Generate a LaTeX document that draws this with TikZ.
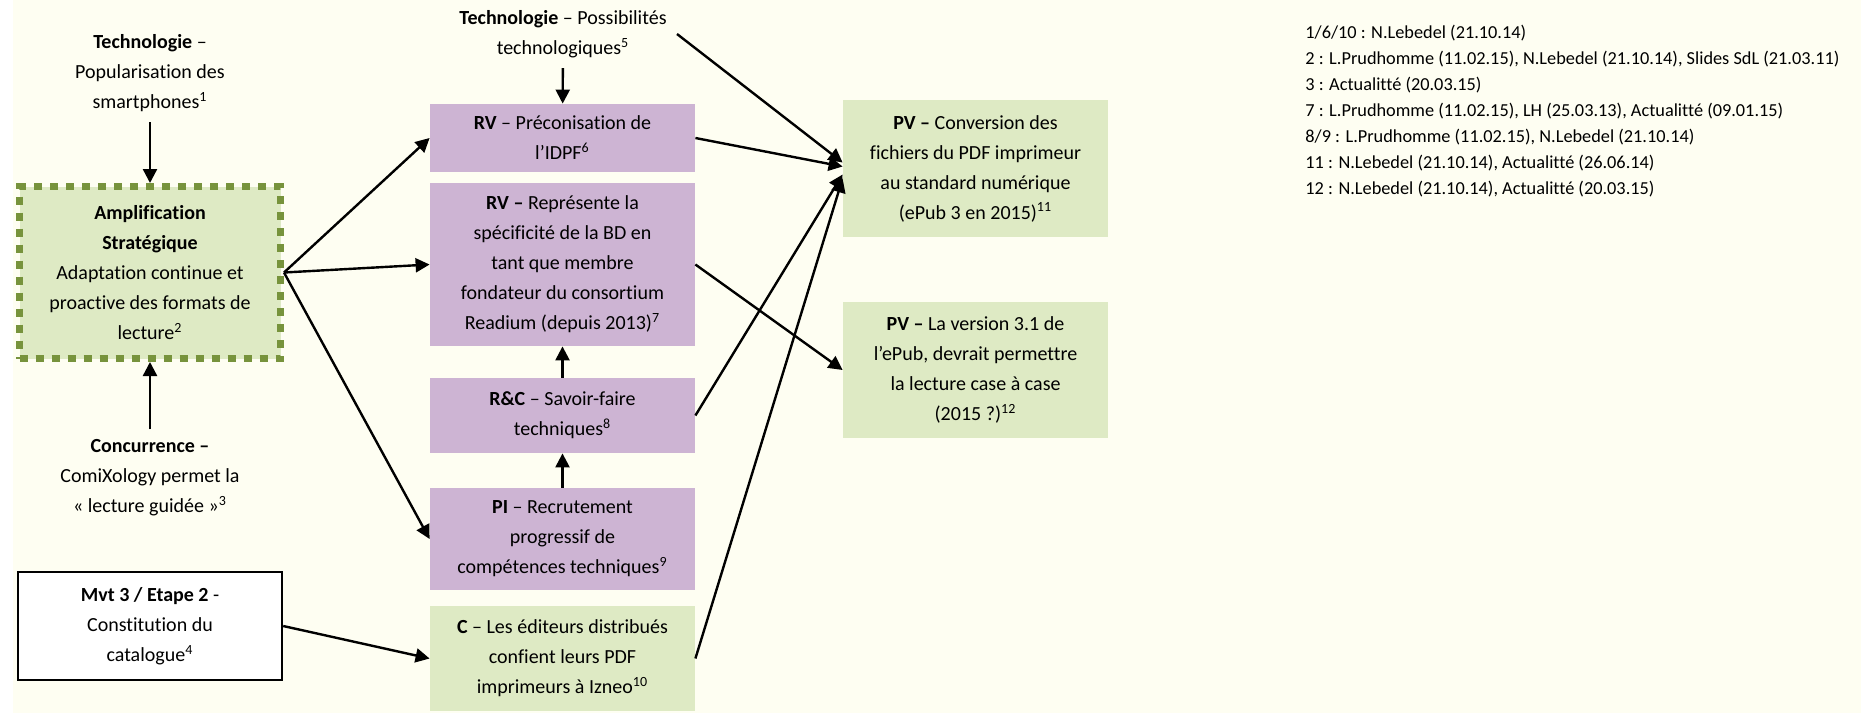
\documentclass[tikz,border=0pt]{standalone}
\usepackage{fontspec}
\setmainfont{Carlito}[Ligatures=NoCommon]
\usepackage{tikz}
\usetikzlibrary{arrows.meta, positioning}
\definecolor{bgcream}{RGB}{254,254,242}
\definecolor{boxgreen}{RGB}{222,234,196}
\definecolor{boxpurple}{RGB}{205,180,211}
\definecolor{olivedash}{RGB}{119,147,60}
\tikzset{
  basebox/.style={
    rectangle, inner sep=0pt, minimum width=132.5pt,
    align=center, font=\fontsize{10}{15}\selectfont
  },
  rvbox/.style={basebox, fill=boxpurple},
  greenbox/.style={basebox, fill=boxgreen},
  ampbox/.style={basebox, fill=boxgreen, draw=olivedash, line width=3.5pt,
    dash pattern=on 4pt off 4pt, minimum width=130.5pt},
  plainbox/.style={basebox, fill=white, draw=black, line width=1.2pt, minimum width=132pt},
  factor/.style={align=center, inner sep=5pt, font=\fontsize{10}{15}\selectfont},
  notes/.style={align=left, inner sep=0pt, font=\fontsize{9.15}{13}\selectfont},
  every edge/.style={draw, -{Triangle[length=7pt, width=7pt]}, line width=1.2pt},
}

\begin{document}
\begin{tikzpicture}[x=0.5pt, y=-0.5pt]
  \useasboundingbox (0,0) rectangle (1861,713);
  \fill[bgcream] (13,0) rectangle (1861,713);

  % left column
  \node[factor] (tech1) at (150,73) {\textbf{Technologie} –\\Popularisation des\\smartphones\textsuperscript{1}};
  \node[ampbox, minimum height=86pt] (amp) at (150,272.5) {\textbf{Amplification}\\\textbf{Stratégique}\\Adaptation continue et\\proactive des formats de\\lecture\textsuperscript{2}};
  \node[factor] (conc) at (150,478) {\textbf{Concurrence –}\\ComiXology permet la\\« lecture guidée »\textsuperscript{3}};
  \node[plainbox, minimum height=54pt] (mvt) at (150,626) {\textbf{Mvt 3 / Etape 2} -\\Constitution du\\catalogue\textsuperscript{4}};

  % middle column
  \node[factor] (tech2) at (563,34) {\textbf{Technologie} – Possibilités\\technologiques\textsuperscript{5}};
  \node[rvbox, minimum height=34pt] (rv1) at (562.5,138) {\textbf{RV} – Préconisation de\\l’IDPF\textsuperscript{6}};
  \node[rvbox, minimum height=81.5pt] (rv2) at (562.5,264.5) {\textbf{RV –} Représente la\\spécificité de la BD en\\tant que membre\\fondateur du consortium\\Readium (depuis 2013)\textsuperscript{7}};
  \node[rvbox, minimum height=37.5pt] (rc) at (562.5,415.5) {\textbf{R\&C} – Savoir-faire\\techniques\textsuperscript{8}};
  \node[rvbox, minimum height=51pt] (pi) at (562.5,539) {\textbf{PI} – Recrutement\\progressif de\\compétences techniques\textsuperscript{9}};
  \node[greenbox, minimum height=52.5pt] (cdist) at (562.5,658.5) {\textbf{C} – Les éditeurs distribués\\confient leurs PDF\\imprimeurs à Izneo\textsuperscript{10}};

  % right column
  \node[greenbox, minimum height=68.5pt] (pv1) at (975.5,168.5) {\textbf{PV –} Conversion des\\fichiers du PDF imprimeur\\au standard numérique\\(ePub 3 en 2015)\textsuperscript{11}};
  \node[greenbox, minimum height=68pt] (pv2) at (975.5,370) {\textbf{PV –} La version 3.1 de\\l’ePub, devrait permettre\\la lecture case à case\\(2015 ?)\textsuperscript{12}};

  \node[notes, anchor=north west] (notes) at (1305,25) {1/6/10 : N.Lebedel (21.10.14)\\
    2 : L.Prudhomme (11.02.15), N.Lebedel (21.10.14), Slides SdL (21.03.11)\\
    3 : Actualitté (20.03.15)\\
    7 : L.Prudhomme (11.02.15), LH (25.03.13), Actualitté (09.01.15)\\
    8/9 : L.Prudhomme (11.02.15), N.Lebedel (21.10.14)\\
    11 : N.Lebedel (21.10.14), Actualitté (26.06.14)\\
    12 : N.Lebedel (21.10.14), Actualitté (20.03.15)};

  \path (tech1) edge (amp)
        (conc) edge (amp)
        (tech2) edge (rv1)
        (amp.east) edge (rv1.west)
        (amp.east) edge (rv2.west)
        (amp.east) edge (pi.west)
        (mvt.east) edge (cdist.west)
        (rc) edge (rv2)
        (pi) edge (rc)
        (tech2.east) edge ([yshift=3pt]pv1.west)
        (rv1.east) edge ([yshift=1pt]pv1.west)
        (rv2.east) edge (pv2.west)
        (rc.east) edge ([yshift=-3pt]pv1.west)
        (cdist.east) edge ([yshift=-5pt]pv1.west);
\end{tikzpicture}
\end{document}
